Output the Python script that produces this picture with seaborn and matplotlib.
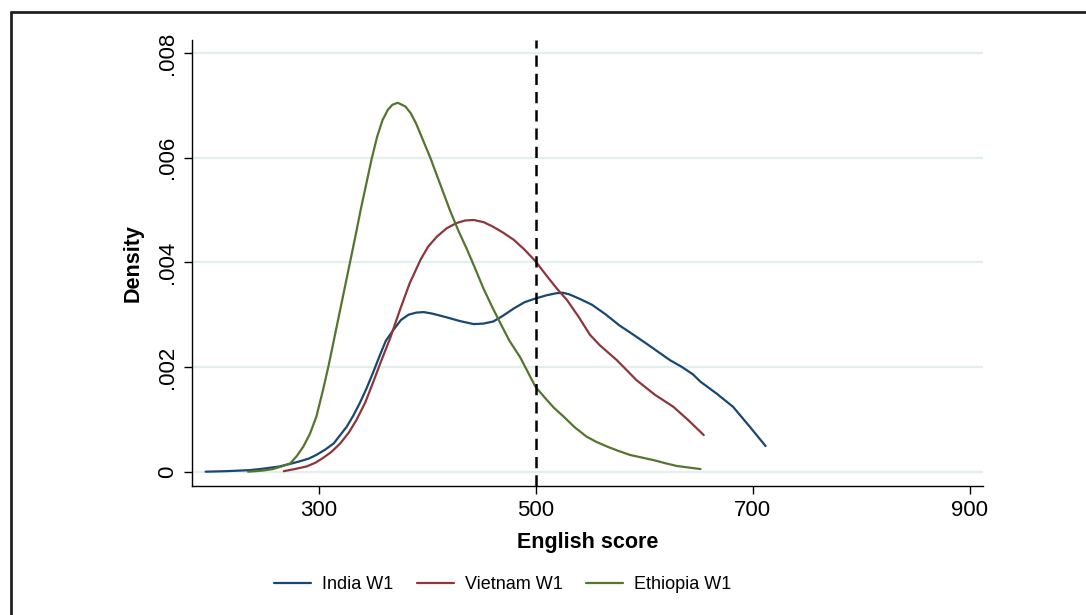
import pandas as pd
import seaborn as sns
import matplotlib.pyplot as plt
from matplotlib.lines import Line2D

# Kernel density curves (English score, density)
india_x = [196, 215, 237, 250, 264, 274, 283, 291, 298, 306, 314, 320, 326, 332,
           338, 344, 350, 357, 362, 366, 369, 376, 383, 390, 397, 405, 418, 430,
           443, 452, 461, 470, 480, 490, 500, 510, 519, 525, 531, 541, 552, 565,
           577, 590, 602, 613, 624, 635, 645, 652, 667, 682, 697, 712]
india_y = [0.0, 0.00001, 0.00003, 0.00006, 0.0001, 0.00015, 0.0002, 0.00025,
           0.00032, 0.00042, 0.00054, 0.0007, 0.00086, 0.00107, 0.00131, 0.00158,
           0.00188, 0.00225, 0.0025, 0.00262, 0.00271, 0.0029, 0.003, 0.00304,
           0.00305, 0.00302, 0.00295, 0.00288, 0.00282, 0.00283, 0.00287, 0.00298,
           0.00312, 0.00324, 0.00331, 0.00337, 0.00341, 0.00342, 0.00339, 0.0033,
           0.00319, 0.003, 0.0028, 0.00262, 0.00245, 0.00229, 0.00213, 0.002,
           0.00186, 0.00172, 0.00149, 0.00124, 0.00087, 0.00049]

vietnam_x = [268, 278, 289, 297, 304, 312, 320, 328, 335, 343, 350, 358, 366, 375,
             384, 394, 401, 409, 418, 427, 435, 443, 452, 461, 470, 480, 490, 500,
             510, 520, 529, 540, 550, 559, 575, 593, 610, 627, 641, 655]
vietnam_y = [0.00001, 0.00005, 0.0001, 0.00017, 0.00026, 0.00038, 0.00054, 0.00075,
             0.00099, 0.00132, 0.00169, 0.00213, 0.00255, 0.00309, 0.0036, 0.00405,
             0.0043, 0.00449, 0.00465, 0.00475, 0.0048, 0.00481, 0.00477, 0.00468,
             0.00457, 0.00443, 0.00424, 0.00402, 0.00375, 0.00349, 0.00328, 0.00295,
             0.00262, 0.00242, 0.00213, 0.00175, 0.00147, 0.00124, 0.00098, 0.0007]

ethiopia_x = [235, 248, 258, 266, 274, 280, 286, 292, 298, 304, 309, 314, 319, 324,
              329, 334, 339, 344, 349, 354, 359, 364, 368, 373, 380, 385, 390, 396,
              403, 412, 421, 429, 437, 445, 452, 460, 467, 476, 486, 493, 500, 510,
              517, 526, 536, 547, 556, 566, 576, 587, 598, 609, 620, 630, 641, 652]
ethiopia_y = [0.0, 0.00002, 0.00005, 0.0001, 0.00016, 0.0003, 0.00048, 0.00072,
              0.00105, 0.00155, 0.002, 0.0025, 0.003, 0.0035, 0.004, 0.0045, 0.00502,
              0.0055, 0.00598, 0.0064, 0.00672, 0.00692, 0.00701, 0.00705,
              0.00698, 0.00685, 0.00665, 0.00635, 0.006, 0.0055, 0.005, 0.0046,
              0.00424, 0.00385, 0.0035, 0.00315, 0.00286, 0.0025, 0.00218, 0.0019,
              0.00162, 0.00138, 0.00122, 0.00105, 0.00085, 0.00067, 0.00057, 0.00048,
              0.0004, 0.00032, 0.00027, 0.00022, 0.00016, 0.00011, 0.00008, 0.00005]

series = ['India W1', 'Vietnam W1', 'Ethiopia W1']
colors = ['#1a476f', '#90353b', '#55752f']
cutoff = 500
x_ticks = [300, 500, 700, 900]
y_ticks = [0, 0.002, 0.004, 0.006, 0.008]
y_labels = ['0', '.002', '.004', '.006', '.008']

df = pd.concat([
    pd.DataFrame({'score': india_x, 'density': india_y, 'group': series[0]}),
    pd.DataFrame({'score': vietnam_x, 'density': vietnam_y, 'group': series[1]}),
    pd.DataFrame({'score': ethiopia_x, 'density': ethiopia_y, 'group': series[2]}),
])

sns.set_style("white")
plt.rcParams['font.family'] = ['Liberation Sans', 'DejaVu Sans']
plt.rcParams['text.color'] = 'black'
plt.rcParams['axes.labelcolor'] = 'black'
plt.rcParams['xtick.color'] = 'black'
plt.rcParams['ytick.color'] = 'black'

fig = plt.figure(figsize=(10.86, 6.15), dpi=100)
ax = fig.add_axes([0.1768, 0.2098, 0.7284, 0.7252])

for y in y_ticks:
    ax.axhline(y, color='#e3eeef', lw=1.6, zorder=0)

sns.lineplot(data=df, x='score', y='density', hue='group', hue_order=series,
             palette=colors, sort=False, estimator=None, lw=1.6, ax=ax, legend=False)

ax.axvline(cutoff, color='black', lw=1.8, ls=(0, (4.5, 2.8)), zorder=3)

ax.set_xlim(183.4, 912.4)
ax.set_ylim(-0.000273, 0.00825)
ax.set_xticks(x_ticks)
ax.set_xticklabels([str(t) for t in x_ticks])
ax.set_yticks(y_ticks)
ax.set_yticklabels(y_labels, rotation=90, va='center')
ax.tick_params(axis='both', direction='out', length=6, width=1, color='black',
               labelsize=16, pad=4, left=True, bottom=True)

for side in ['top', 'right']:
    ax.spines[side].set_visible(False)
for side in ['left', 'bottom']:
    ax.spines[side].set_color('black')
    ax.spines[side].set_linewidth(1)

ax.set_xlabel('English score', fontsize=15.5, fontweight='bold', labelpad=8)
ax.set_ylabel('Density', fontsize=15.5, fontweight='bold', labelpad=10)

handles = [Line2D([0], [0], color=c, lw=1.6) for c in colors]
fig.legend(handles, series, loc='center', bbox_to_anchor=(0.4627, 0.049), ncol=3,
           frameon=False, fontsize=13, handlelength=2.05, columnspacing=1.3,
           handletextpad=0.61)

# outer frame (top and left edges only, as in the reference)
fig.add_artist(Line2D([0.0101, 0.0101], [0, 0.9805], color='#222222', lw=2,
                      transform=fig.transFigure))
fig.add_artist(Line2D([0.0101, 1.0], [0.9805, 0.9805], color='#222222', lw=2,
                      transform=fig.transFigure))

fig.savefig('out.png', dpi=100)
